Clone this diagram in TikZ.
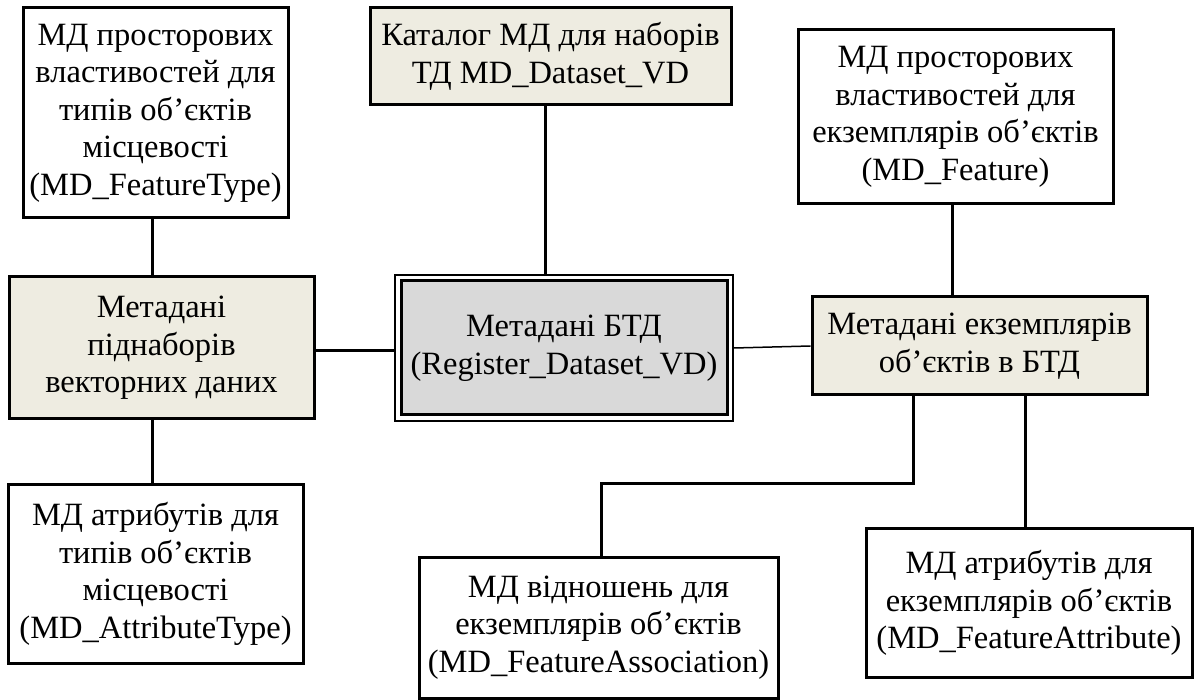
\documentclass[tikz,border=0pt]{standalone}
\usepackage{fontspec}
\setmainfont{Liberation Serif}
\definecolor{beige}{HTML}{EEECE1}
\definecolor{midgray}{HTML}{D9D9D9}
\begin{document}
\begin{tikzpicture}[x=1pt,y=-1pt,
  box/.style={draw=black, line width=3pt, align=center, inner sep=0pt,
    font=\fontsize{32.5}{37.5}\selectfont},
  plainbox/.style={box, fill=white},
  tanbox/.style={box, fill=beige},
  link/.style={line width=3pt},
  thinlink/.style={line width=1.5pt}]
\useasboundingbox (0,0) rectangle (1195,700);

\node[plainbox, minimum width=265, minimum height=210] (A) at (155.5,113)
  {МД просторових\\властивостей для\\типів об’єктів\\місцевості\\(MD\_FeatureType)};
\node[tanbox, minimum width=361, minimum height=97] (B) at (550.5,56.5)
  {Каталог МД для наборів\\ТД MD\_Dataset\_VD};
\node[plainbox, minimum width=315, minimum height=174] (C) at (955.5,117)
  {МД просторових\\властивостей для\\екземплярів об’єктів\\(MD\_Feature)};
\node[tanbox, minimum width=305, minimum height=142] (D) at (161.5,348)
  {Метадані\\піднаборів\\векторних даних};
\node[draw=black, fill=white, line width=2pt, minimum width=338, minimum height=146, inner sep=0pt] (Eo) at (564,348) {};
\node[box, fill=midgray, minimum width=326, minimum height=134] (E) at (564,348)
  {Метадані БТД\\(Register\_Dataset\_VD)};
\node[tanbox, minimum width=335, minimum height=98] (F) at (979.5,346)
  {Метадані екземплярів\\об’єктів в БТД};
\node[plainbox, minimum width=295, minimum height=178] (G) at (155.5,574)
  {МД атрибутів для\\типів об’єктів\\місцевості\\(MD\_AttributeType)};
\node[plainbox, minimum width=359, minimum height=141] (H) at (598.5,627.5)
  {МД відношень для\\екземплярів об’єктів\\(MD\_FeatureAssociation)};
\node[plainbox, minimum width=326, minimum height=148] (I) at (1029,603)
  {МД атрибутів для\\екземплярів об’єктів\\(MD\_FeatureAttribute)};

\coordinate (xl) at (152,0);
\coordinate (yd) at (0,351);
\coordinate (xb) at (545,0);
\coordinate (xc) at (952,0);
\coordinate (k1) at (913,484);
\coordinate (k2) at (601,484);
\coordinate (xi) at (1025,0);

\draw[link] (A.south -| xl) -- (D.north -| xl);
\draw[link] (D.south -| xl) -- (G.north -| xl);
\draw[link] (D.east |- yd) -- (Eo.west |- yd);
\draw[link] (B.south -| xb) -- (Eo.north -| xb);
\draw[thinlink] (Eo.east) -- (F.west);
\draw[link] (C.south -| xc) -- (F.north -| xc);
\draw[link] (F.south -| k1) -- (k1) -- (k2) -- (H.north -| k2);
\draw[link] (F.south -| xi) -- (I.north -| xi);
\end{tikzpicture}
\end{document}
